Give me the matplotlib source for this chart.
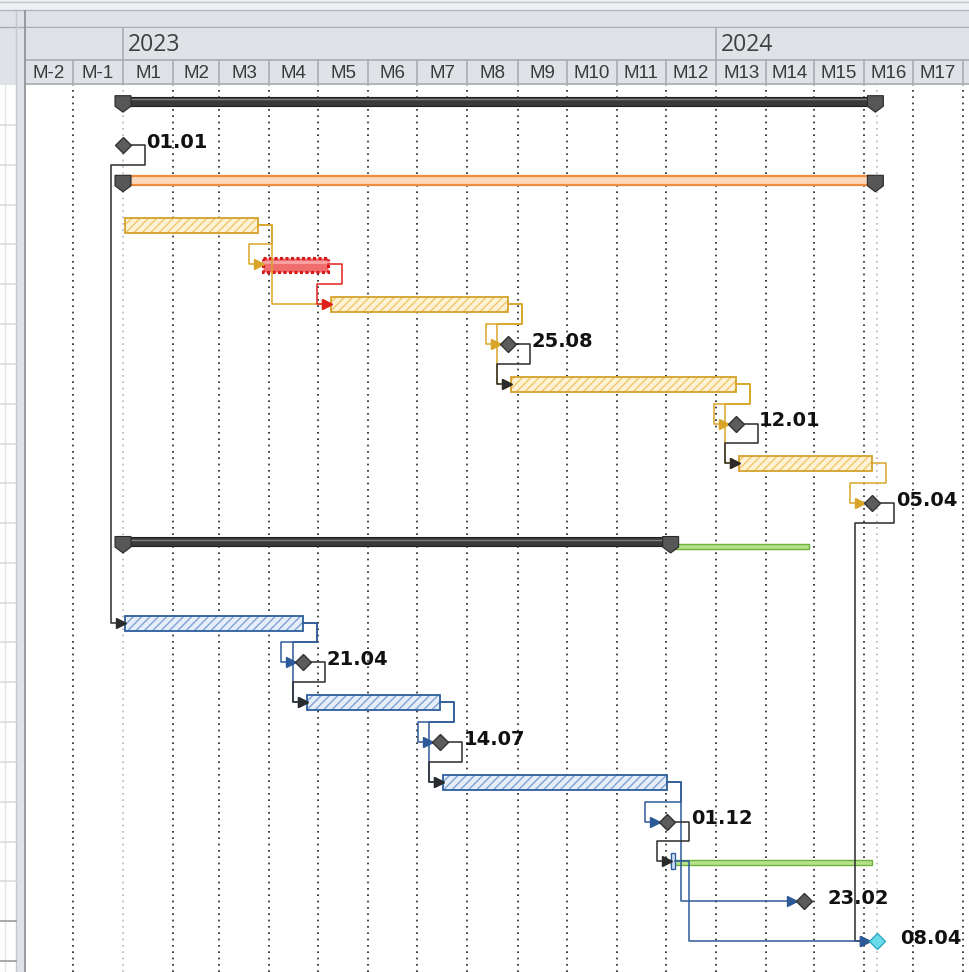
import numpy as np
import pandas as pd
import matplotlib
matplotlib.use('Agg')
import matplotlib.pyplot as plt
from matplotlib.patches import Rectangle, Polygon

# --- data -------------------------------------------------------------------
ORIGIN = pd.Timestamp('2023-01-01')

# M18 is only a sliver at the right edge, so it gets no label
month_labels = ['M-2', 'M-1'] + [f'M{i}' for i in range(1, 18)]
month_first = pd.date_range('2022-11-01', periods=21, freq='MS')
year_labels = ['2023', '2024']
year_first = ['2023-01-01', '2024-01-01']

# summary bars
sum_rows = [1, 3, 12]
sum_start = ['2023-01-01', '2023-01-01', '2023-01-01']
sum_end = ['2024-04-07', '2024-04-07', '2023-12-03']
sum_style = ['black', 'orange', 'black']

# normal tasks
task_rows = [4, 5, 6, 8, 10, 14, 16, 18]
task_start = ['2023-01-02', '2023-03-28', '2023-05-09', '2023-08-28',
              '2024-01-15', '2023-01-02', '2023-04-24', '2023-07-17']
task_end = ['2023-03-24', '2023-05-06', '2023-08-25', '2024-01-12',
            '2024-04-05', '2023-04-21', '2023-07-14', '2023-12-01']
task_style = ['gold', 'red', 'gold', 'gold', 'gold', 'blue', 'blue', 'blue']

# slack (green) lines
slack_rows = [12, 20]
slack_start = ['2023-12-04', '2023-12-04']
slack_end = ['2024-02-26', '2024-04-05']

# milestones
ms_rows = [2, 7, 9, 11, 15, 17, 19, 21, 22]
ms_dates = ['2023-01-01', '2023-08-25', '2024-01-12', '2024-04-05', '2023-04-21',
            '2023-07-14', '2023-12-01', '2024-02-23', '2024-04-08']
ms_style = ['grey'] * 8 + ['cyan']

# zero length task on row 20
zero_row = 20
zero_date = '2023-12-04'

project_end = '2024-04-08'

# links: (from, to, colour key)
links = [
    (('m', 0), ('t', 5), 'black'),
    (('t', 0), ('t', 1), 'gold'),
    (('t', 0), ('t', 2), 'gold'),
    (('t', 1), ('t', 2), 'red'),
    (('t', 2), ('m', 1), 'gold'),
    (('t', 2), ('t', 3), 'gold'),
    (('m', 1), ('t', 3), 'black'),
    (('t', 3), ('m', 2), 'gold'),
    (('t', 3), ('t', 4), 'gold'),
    (('m', 2), ('t', 4), 'black'),
    (('t', 4), ('m', 3), 'gold'),
    (('m', 3), ('m', 8), 'black'),
    (('t', 5), ('m', 4), 'blue'),
    (('t', 5), ('t', 6), 'blue'),
    (('m', 4), ('t', 6), 'black'),
    (('t', 6), ('m', 5), 'blue'),
    (('t', 6), ('t', 7), 'blue'),
    (('m', 5), ('t', 7), 'black'),
    (('t', 7), ('m', 6), 'blue'),
    (('t', 7), ('m', 7), 'blue'),
    (('m', 6), ('z', 0), 'black'),
    (('z', 0), ('m', 8), 'blue'),
]

LINK_COL = {'black': '#2b2b2b', 'gold': '#d9a528', 'red': '#e0201c', 'blue': '#2d5b98'}


def day(s, eod=False):
    d = (pd.Timestamp(s) - ORIGIN).days
    return d + 1 if eod else d


# --- layout (pixels) ---------------------------------------------------------
W, H = 969, 972
X0 = 123          # pixel of 2023-01-01
PX_DAY = 1.625
ROW0, PX_ROW = 65.4, 39.8
LEFT, HEAD_TOP, HEAD_MID, HEAD_BOT = 26, 28, 60, 85


def fig_rect(x0, y0, x1, y1):
    return [x0 / W, 1 - y1 / H, (x1 - x0) / W, (y1 - y0) / H]


def px2d(p):
    return p / PX_DAY


def px2r(p):
    return p / PX_ROW


fig = plt.figure(figsize=(W / 100, H / 100), dpi=100)
plt.rcParams['hatch.linewidth'] = 1.0

# background chrome
bg = fig.add_axes([0, 0, 1, 1], zorder=-10)
bg.set_xlim(0, W)
bg.set_ylim(H, 0)
bg.axis('off')
bg.add_patch(Rectangle((0, 0), W, HEAD_BOT, fc='#dfe3e8', ec='none'))
bg.add_patch(Rectangle((0, 0), W, 11, fc='#eef0f3', ec='none'))
bg.axhline(2.5, color='#c4c7cc', lw=1)
bg.axhline(10.5, color='#b4b8be', lw=1)
bg.axhline(27.5, color='#a9adb3', lw=1)
bg.add_patch(Rectangle((0, HEAD_BOT), 16, H, fc='white', ec='none'))
bg.add_patch(Rectangle((17, 11), 8, H, fc='#dfe3e8', ec='none'))
bg.plot([16.5, 16.5], [11, H], color='#c3c6cb', lw=1)
bg.plot([25.5, 25.5], [11, H], color='#8a8d92', lw=1.2)
bg.plot([5, 5], [HEAD_BOT, H], color='#e3e3e3', lw=1)
for r in range(1, 23):
    yb = ROW0 + PX_ROW * (r + 0.5)
    bg.plot([0, 16], [yb, yb], color='#999999' if r >= 21 else '#dcdcdc', lw=1.2)

# header
hax = fig.add_axes(fig_rect(LEFT, HEAD_TOP, W, HEAD_BOT))
xlim = (px2d(LEFT - X0), px2d(W - X0))
hax.set_xlim(*xlim)
hax.set_ylim(HEAD_BOT, HEAD_TOP)
hax.set_facecolor('#dfe3e8')
for s in hax.spines.values():
    s.set_visible(False)
hax.set_xticks([])
hax.set_yticks([])
hax.axhline(HEAD_MID, color='#a9adb3', lw=1.2)
hax.axhline(HEAD_BOT - 0.5, color='#a9adb3', lw=1.2)
mdays = [(d - ORIGIN).days for d in month_first]
for a in mdays:
    hax.plot([a, a], [HEAD_MID, HEAD_BOT], color='#a9adb3', lw=1.2)
for i, lab in enumerate(month_labels):
    a, b = mdays[i], mdays[i + 1]
    hax.text((a + b) / 2, (HEAD_MID + HEAD_BOT) / 2 + 1, lab, ha='center', va='center',
             fontsize=13.5, family='Liberation Sans', color='#3a3a3a')
for lab, d0 in zip(year_labels, year_first):
    xd = day(d0)
    hax.plot([xd, xd], [HEAD_TOP, HEAD_MID], color='#a9adb3', lw=1.2)
    hax.text(xd + px2d(5), (HEAD_TOP + HEAD_MID) / 2 + 1, lab, ha='left', va='center',
             fontsize=16.5, family='Open Sans', color='#3f3f3f')

# chart
ax = fig.add_axes(fig_rect(LEFT, HEAD_BOT, W, H))
ax.set_xlim(*xlim)
ax.set_ylim(px2r(H - ROW0), px2r(HEAD_BOT - ROW0))
for s in ax.spines.values():
    s.set_visible(False)
ax.set_xticks([])
ax.set_yticks([])

for d in mdays:
    if d != 0:
        ax.axvline(d, color='#1e1e1e', lw=1.2, dashes=(1, 2.8), zorder=1)
for d in (0, day(project_end, eod=True)):
    ax.axvline(d, color='#b5b5b5', lw=1.2, dashes=(1, 2.8), zorder=1)

# summaries
cap = np.array([(-8, -9.5), (8, -9.5), (8, 1), (0, 7), (-8, 1)])
for r, s0, s1, st in zip(sum_rows, sum_start, sum_end, sum_style):
    x0, x1 = day(s0), day(s1, eod=True)
    top, h = r - px2r(8.5), px2r(9)
    if r == 12:
        top += px2r(3)
    if st == 'black':
        ax.add_patch(Rectangle((x0, top), x1 - x0, h, fc='#3a3a3a', ec='#1f1f1f', lw=0.8, zorder=3))
        ax.plot([x0, x1], [top + px2r(2)] * 2, color='#7d7d7d', lw=1, zorder=3)
    else:
        ax.add_patch(Rectangle((x0, top), x1 - x0, h, fc='#fcd9bd', ec='#f08c3e', lw=1.6, zorder=3))
    for xc in (x0, x1):
        pts = np.column_stack([xc + px2d(cap[:, 0]), top + px2r(cap[:, 1] + 8.5)])
        ax.add_patch(Polygon(pts, closed=True, fc='#575757', ec='#2a2a2a', lw=0.8, zorder=4))

# tasks
TASK_COL = {'gold': ('#fdf2d6', '#f1c869', '#d4a12c'),
            'blue': ('#e6eef9', '#7fa2d4', '#2f5e9e')}
for r, s0, s1, st in zip(task_rows, task_start, task_end, task_style):
    x0, x1 = day(s0), day(s1, eod=True)
    if st == 'red':
        y, h = r - px2r(6.5), px2r(14)
        ax.add_patch(Rectangle((x0, y), x1 - x0, h, fc='#ef6d6d', ec='#d81818', lw=2.2,
                               ls=(0, (1, 0.8)), zorder=3))
        ax.plot([x0, x1], [r - px2r(2)] * 2, color='#f7a4a4', lw=2, zorder=3)
    else:
        fc, hc, ec = TASK_COL[st]
        y, h = r - px2r(7), px2r(15)
        ax.add_patch(Rectangle((x0, y), x1 - x0, h, fc=fc, ec=hc, lw=0, hatch='////', zorder=3))
        ax.add_patch(Rectangle((x0, y), x1 - x0, h, fill=False, ec=ec, lw=1.3, zorder=3))

# slack
for r, s0, s1 in zip(slack_rows, slack_start, slack_end):
    x0, x1 = day(s0), day(s1, eod=True)
    off = 1.5 if r == 12 else -1.5
    ax.add_patch(Rectangle((x0, r + px2r(off)), x1 - x0, px2r(5), fc='#b6e08c', ec='#6fb23b',
                           lw=1, zorder=3))

# zero length task
zx = day(zero_date) + px2d(2)
ax.add_patch(Rectangle((zx - px2d(2), zero_row - px2r(8)), px2d(4), px2r(16), fc='#d2e2f6',
                       ec='#2f5e9e', lw=1, zorder=4))

# milestone positions
ms_x = [day(d) if i == 0 else day(d, eod=True) for i, d in enumerate(ms_dates)]


def left_right(key):
    kind, i = key
    if kind == 't':
        return day(task_start[i]), day(task_end[i], eod=True), task_rows[i]
    if kind == 'm':
        return ms_x[i] - px2d(8), ms_x[i] + px2d(8), ms_rows[i]
    return zx - px2d(2), zx + px2d(2), zero_row


# links
for a, b, col in links:
    _, xa, ra = left_right(a)
    xb, _, rb = left_right(b)
    xr = xa + px2d(14)
    xl = xb - px2d(14)
    if xl >= xr:
        xs, ys = [xa, xr, xr, xb], [ra, ra, rb, rb]
    else:
        ym = ra + 0.5
        xs, ys = [xa, xr, xr, xl, xl, xb], [ra, ra, ym, ym, rb, rb]
    c = LINK_COL[col]
    ax.plot(xs, ys, color=c, lw=1.1, solid_joinstyle='round', zorder=5)
    ax.plot(xb - px2d(4), rb, marker='>', ms=7, color=c, mec=c, zorder=6)

# milestones
for x, r, d, st in zip(ms_x, ms_rows, ms_dates, ms_style):
    fc, ec = ('#5c5c5c', '#333333') if st == 'grey' else ('#6ad9ea', '#2fa9c2')
    ax.plot(x, r, marker='D', ms=8, mfc=fc, mec=ec, mew=1, zorder=7)
    ax.annotate(pd.Timestamp(d).strftime('%d.%m'), (x, r), xytext=(17, 2),
                textcoords='offset points', ha='left', va='center', fontsize=14,
                fontweight='bold', family='DejaVu Sans', color='#111111', zorder=8)

fig.savefig('out.png', dpi=100)
